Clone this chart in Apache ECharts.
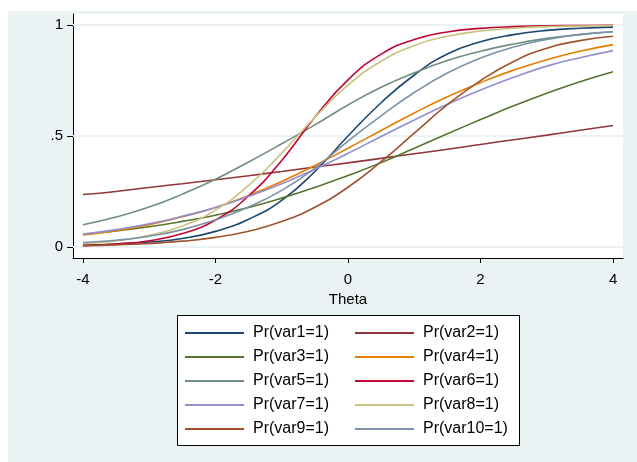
<!DOCTYPE html>
<html>
<head>
<meta charset="utf-8">
<script src="https://cdn.jsdelivr.net/npm/echarts@6/dist/echarts.min.js"></script>
<style>
html,body{margin:0;padding:0;background:#ffffff;}
#chart{width:637px;height:462px;}
</style>
</head>
<body>
<div id="chart"></div>
<script>
var theta = [-4,-3.5,-3,-2.5,-2,-1.5,-1,-0.5,0,0.5,1,1.5,2,2.5,3,3.5,4];
var xTicks = [-4,-2,0,2,4];
var yTicks = [0,0.5,1];
var seriesNames = ['Pr(var1=1)','Pr(var2=1)','Pr(var3=1)','Pr(var4=1)','Pr(var5=1)','Pr(var6=1)','Pr(var7=1)','Pr(var8=1)','Pr(var9=1)','Pr(var10=1)'];
var var1 = [0.008,0.013,0.022,0.038,0.07,0.125,0.21,0.34,0.5,0.65,0.775,0.87,0.925,0.957,0.976,0.986,0.991];
var var2 = [0.236,0.25,0.268,0.285,0.303,0.321,0.34,0.36,0.379,0.399,0.42,0.44,0.462,0.483,0.504,0.526,0.547];
var var3 = [0.056,0.072,0.091,0.115,0.143,0.178,0.22,0.268,0.322,0.38,0.445,0.51,0.574,0.636,0.693,0.745,0.79];
var var4 = [0.054,0.073,0.1,0.136,0.178,0.232,0.295,0.367,0.445,0.525,0.604,0.677,0.741,0.797,0.844,0.882,0.912];
var var5 = [0.1,0.135,0.18,0.238,0.305,0.383,0.465,0.55,0.64,0.72,0.785,0.84,0.882,0.915,0.94,0.957,0.97];
var var6 = [0.006,0.013,0.028,0.06,0.121,0.23,0.39,0.585,0.753,0.869,0.935,0.969,0.985,0.993,0.997,0.998,0.999];
var var7 = [0.058,0.078,0.104,0.138,0.178,0.228,0.285,0.35,0.422,0.498,0.572,0.643,0.707,0.765,0.815,0.853,0.885];
var var8 = [0.015,0.027,0.052,0.094,0.166,0.277,0.423,0.584,0.729,0.837,0.908,0.95,0.973,0.986,0.993,0.996,0.998];
var var9 = [0.0055,0.0093,0.0155,0.026,0.043,0.071,0.114,0.179,0.269,0.384,0.513,0.641,0.75,0.836,0.896,0.93,0.95];
var var10 = [0.02,0.03,0.048,0.078,0.122,0.18,0.255,0.355,0.477,0.591,0.696,0.784,0.852,0.901,0.935,0.958,0.97];
var allValues = [var1,var2,var3,var4,var5,var6,var7,var8,var9,var10];
var colors = ['#1a476f','#90353b','#55752f','#e37e00','#6e8e84','#c10534','#938dd2','#cac27e','#a0522d','#7b92a8'];

var FONT = '"Liberation Sans", Arial, Helvetica, sans-serif';
var chart = echarts.init(document.getElementById('chart'), null, {renderer:'canvas'});

var series = [{
  type:'line', name:'_grid', data:[], z:1, silent:true,
  markLine:{
    silent:true, symbol:'none', animation:false, z:1,
    label:{show:false},
    lineStyle:{color:'#eaf2f3', width:2, type:'solid'},
    data: yTicks.map(function(v){return {yAxis:v};})
  }
}];
allValues.forEach(function(vals,i){
  series.push({
    type:'line', name:seriesNames[i],
    data: theta.map(function(t,j){return [t, vals[j]];}),
    smooth:0.5, symbol:'none', showSymbol:false, z:3+i,
    lineStyle:{color:colors[i], width:1.6},
    itemStyle:{color:colors[i]},
    animation:false
  });
});

var legendCommon = {
  orient:'vertical', top:325, padding:0, itemGap:8,
  itemWidth:59, itemHeight:2, icon:'rect',
  textStyle:{fontFamily:FONT, fontSize:16, color:'#000', lineHeight:16, padding:[0,0,0,4]},
  selectedMode:false
};

var option = {
  backgroundColor:'transparent',
  animation:false,
  graphic:[
    {type:'rect', z:-10, shape:{x:8,y:11,width:629,height:451}, style:{fill:'#eaf2f3'}, silent:true},
    {type:'rect', z:-9, shape:{x:73,y:14,width:550,height:244}, style:{fill:'#ffffff'}, silent:true},
    {type:'rect', z:-8, shape:{x:177.5,y:315.5,width:342,height:130}, style:{fill:'#ffffff', stroke:'#000', lineWidth:1}, silent:true}
  ],
  grid:{left:73, top:14, width:550, height:244, containLabel:false},
  xAxis:{
    type:'value', min:-4.15, max:4.15,
    name:'Theta', nameLocation:'middle', nameGap:31,
    nameTextStyle:{fontFamily:FONT, fontSize:15, color:'#000'},
    axisLine:{show:true, onZero:false, lineStyle:{color:'#000', width:1}},
    axisTick:{show:true, length:5, customValues:xTicks, lineStyle:{color:'#000'}},
    axisLabel:{customValues:xTicks, margin:14, fontFamily:FONT, fontSize:15, color:'#000'},
    splitLine:{show:false}
  },
  yAxis:{
    type:'value', min:-0.05, max:1.05,
    axisLine:{show:true, onZero:false, lineStyle:{color:'#000', width:1}},
    axisTick:{show:true, length:6, customValues:yTicks, lineStyle:{color:'#000'}},
    axisLabel:{customValues:yTicks, margin:10, fontFamily:FONT, fontSize:15, color:'#000',
      formatter:function(v){ return v===0.5 ? '.5' : String(v); }},
    splitLine:{show:false}
  },
  legend:[
    Object.assign({left:185, data:[seriesNames[0],seriesNames[2],seriesNames[4],seriesNames[6],seriesNames[8]]}, legendCommon),
    Object.assign({left:355, data:[seriesNames[1],seriesNames[3],seriesNames[5],seriesNames[7],seriesNames[9]]}, legendCommon)
  ],
  series:series
};
chart.setOption(option);
</script>
</body>
</html>
